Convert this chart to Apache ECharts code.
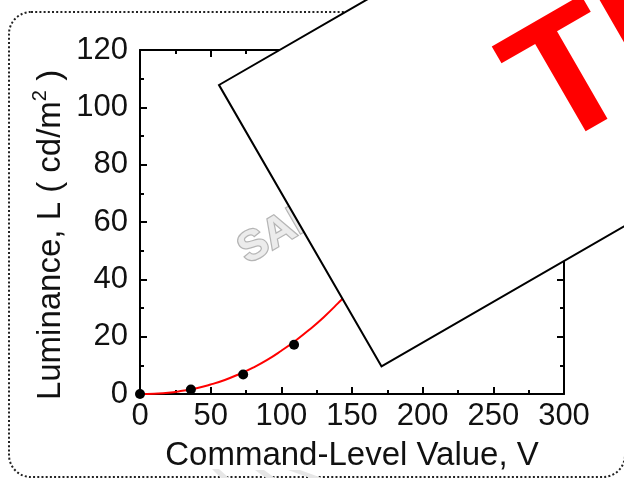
<!DOCTYPE html>
<html><head><meta charset="utf-8">
<script src="https://cdn.jsdelivr.net/npm/echarts@6/dist/echarts.min.js"></script>
<style>html,body{margin:0;padding:0;background:#fff}#c{width:624px;height:478px}</style>
</head><body><div id="c"></div>
<script>
// Measured data points (command level V, luminance L)
const levels = [0, 36, 73, 109, 146, 182, 219, 255];
const luminance = [0, 1.6, 6.8, 17.2, 34, 56, 84, 116];
// Red fitted curve
const fitLevels = [0, 10, 20, 30, 40, 50, 60, 70, 80, 90, 100, 110, 120, 130, 140, 150, 170, 190, 210, 230, 255];
const fitLuminance = [0, 0.1, 0.4, 1.1, 2.0, 3.3, 4.9, 6.9, 9.2, 11.9, 15.1, 18.6, 22.5, 26.8, 31.6, 36.7, 48, 61, 76, 93, 118];
const xTitle = 'Command-Level Value, V';
const yTitle = 'Luminance, L ( cd/m{sup|2} )';
const watermarkText = 'SAMPLE';
const stampText = 'TEXT';

const FONT = '"Liberation Sans", Arial, sans-serif';
const chart = echarts.init(document.getElementById('c'), null, {renderer: 'canvas'});

function axisBase(showLabel) {
  return {
    axisLine: {show: true, onZero: false, lineStyle: {color: '#000', width: 2}},
    axisTick: {show: true, inside: true, length: 7, lineStyle: {color: '#000', width: 2}},
    minorTick: {show: true, splitNumber: 2, length: 4, lineStyle: {color: '#000', width: 2}},
    splitLine: {show: false},
    axisLabel: {show: showLabel, fontSize: 31, color: '#111', fontFamily: FONT}
  };
}

const xMain = Object.assign(axisBase(true), {
  type: 'value', min: 0, max: 300, interval: 50, position: 'bottom',
  name: xTitle, nameLocation: 'middle', nameGap: 45,
  nameTextStyle: {fontSize: 33, color: '#111', fontFamily: FONT}
});
xMain.axisLabel.margin = 7;
const xTop = Object.assign(axisBase(false), {type: 'value', min: 0, max: 300, interval: 50, position: 'top'});

const yMain = Object.assign(axisBase(true), {type: 'value', min: 0, max: 120, interval: 20, position: 'left'});
yMain.axisLabel.margin = 12;
const yRight = Object.assign(axisBase(false), {type: 'value', min: 0, max: 120, interval: 20, position: 'right'});

chart.setOption({
  animation: false,
  backgroundColor: '#fff',
  grid: {left: 140, top: 50, width: 424, height: 344, containLabel: false},
  xAxis: [xMain, xTop],
  yAxis: [yMain, yRight],
  series: [
    {type: 'line', xAxisIndex: 0, yAxisIndex: 0, data: fitLevels.map((v, i) => [v, fitLuminance[i]]),
     showSymbol: false, smooth: true, lineStyle: {color: '#ff0000', width: 2}, z: 2},
    {type: 'scatter', xAxisIndex: 0, yAxisIndex: 0, data: levels.map((v, i) => [v, luminance[i]]),
     symbolSize: 10, itemStyle: {color: '#000', opacity: 1}, z: 3}
  ],
  graphic: [
    {type: 'rect', z: 1, shape: {x: 9, y: 12, width: 616, height: 465, r: 22},
     style: {fill: 'none', stroke: '#222', lineWidth: 2, lineDash: [2, 2.2]}},
    {type: 'polygon', z: 1, shape: {points: [[212, 469], [219, 469], [229, 478], [221, 478]]}, style: {fill: '#e6e6e6'}},
    {type: 'polygon', z: 1, shape: {points: [[255, 470], [264, 470], [275, 478], [266, 478]]}, style: {fill: '#e6e6e6'}},
    {type: 'polygon', z: 1, shape: {points: [[288, 470], [300, 470], [322, 478], [310, 478]]}, style: {fill: '#e6e6e6'}},
    {type: 'text', z: 5, x: 51, y: 235, rotation: Math.PI / 2,
     style: {text: yTitle, font: '33px ' + FONT, fill: '#111', lineHeight: 41,
             align: 'center', verticalAlign: 'middle',
             rich: {sup: {fontSize: 20, fontFamily: FONT, fill: '#111', lineHeight: 20, verticalAlign: 'top'}}}},
    {type: 'text', z: 50, x: 242, y: 254, rotation: Math.PI / 6,
     style: {text: watermarkText, font: 'bold 42px ' + FONT, fill: '#ececec', stroke: '#b5b5b5', lineWidth: 2.5,
             align: 'left', verticalAlign: 'middle'}},
    {type: 'rect', z: 100, x: 219, y: 85, rotation: Math.PI / 6, shape: {x: 0, y: 0, width: 560, height: 325},
     style: {fill: '#fff', stroke: '#000', lineWidth: 2}},
    {type: 'text', z: 101, x: 526, y: 110, rotation: Math.PI / 6,
     style: {text: stampText, font: 'bold 175px ' + FONT, fill: '#ff0000', align: 'left', verticalAlign: 'middle'}}
  ]
});
</script></body></html>
